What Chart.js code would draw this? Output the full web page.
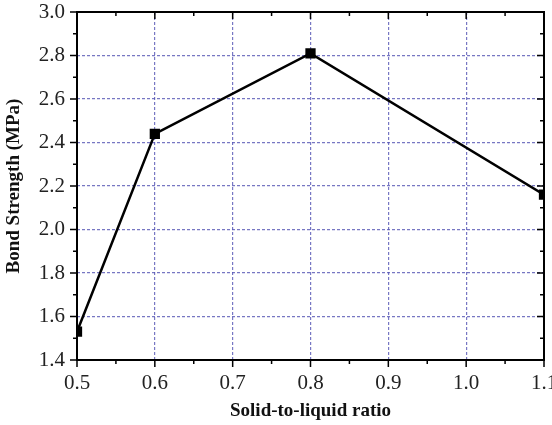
<!DOCTYPE html>
<html>
<head>
<meta charset="utf-8">
<script src="https://cdn.jsdelivr.net/npm/chart.js@4.4.0/dist/chart.umd.min.js"></script>
<style>
  html, body { margin: 0; padding: 0; background: #fff; }
  .chart-box { width: 552px; height: 425px; }
</style>
</head>
<body>
<div class="chart-box"><canvas class="js-chart"></canvas></div>
<script>
// data
const ratio = [0.5, 0.6, 0.8, 1.1];
const bondStrength = [1.53, 2.44, 2.81, 2.16];
const xTicks = [0.5, 0.6, 0.7, 0.8, 0.9, 1.0, 1.1];
const yTicks = [1.4, 1.6, 1.8, 2.0, 2.2, 2.4, 2.6, 2.8, 3.0];

const serif = '"Liberation Serif", "Times New Roman", serif';
const gridBlue = 'rgba(85, 85, 180, 0.8)';

// frame + major/minor tick marks (Origin style)
const framePlugin = {
  id: 'frame',
  afterDraw(chart) {
    const { ctx, chartArea: a, scales: { x, y } } = chart;
    ctx.save();
    ctx.strokeStyle = '#000';
    ctx.lineWidth = 1.5;

    const xs = [];
    for (let i = 0; i < xTicks.length; i++) {
      xs.push([xTicks[i], 7]);
      if (i < xTicks.length - 1) xs.push([(xTicks[i] + xTicks[i + 1]) / 2, 4]);
    }
    xs.forEach(([v, len]) => {
      const px = x.getPixelForValue(v);
      ctx.beginPath();
      ctx.moveTo(px, a.bottom); ctx.lineTo(px, a.bottom + len);
      ctx.moveTo(px, a.top); ctx.lineTo(px, a.top + len);
      ctx.stroke();
    });

    const ys = [];
    for (let i = 0; i < yTicks.length; i++) {
      ys.push([yTicks[i], 7]);
      if (i < yTicks.length - 1) ys.push([(yTicks[i] + yTicks[i + 1]) / 2, 4]);
    }
    ys.forEach(([v, len]) => {
      const py = y.getPixelForValue(v);
      ctx.beginPath();
      ctx.moveTo(a.left, py); ctx.lineTo(a.left - len, py);
      ctx.moveTo(a.right, py); ctx.lineTo(a.right - len, py);
      ctx.stroke();
    });

    ctx.lineWidth = 2;
    ctx.strokeRect(a.left, a.top, a.right - a.left, a.bottom - a.top);
    ctx.restore();
  },
};

const ctx = document.querySelector('.js-chart').getContext('2d');

new Chart(ctx, {
  type: 'line',
  data: {
    datasets: [
      {
        data: ratio.map((r, i) => ({ x: r, y: bondStrength[i] })),
        borderColor: '#000',
        backgroundColor: '#000',
        borderWidth: 2.5,
        pointStyle: 'rect',
        pointRadius: 5.5,
        pointHoverRadius: 5.5,
        tension: 0,
      },
    ],
  },
  options: {
    responsive: true,
    maintainAspectRatio: false,
    animation: false,
    events: [],
    layout: { padding: { top: 12, right: 7, left: 0, bottom: 0 } },
    plugins: {
      legend: { display: false },
      tooltip: { enabled: false },
    },
    scales: {
      x: {
        type: 'linear',
        min: 0.5,
        max: 1.1,
        afterBuildTicks: scale => { scale.ticks = xTicks.map(v => ({ value: v })); },
        afterFit: scale => {
          scale.height = 65;
          scale.paddingLeft = 0;
          scale.paddingRight = 0;
        },
        ticks: {
          color: '#222',
          padding: 11,
          font: { family: serif, size: 21 },
          maxRotation: 0,
          callback: v => v.toFixed(1),
        },
        grid: {
          color: c => (c.index === 0 || c.index === xTicks.length - 1 ? 'rgba(0,0,0,0)' : gridBlue),
          lineWidth: 1.2,
          drawTicks: false,
        },
        border: { display: false, dash: [3, 2] },
        title: {
          display: true,
          text: 'Solid-to-liquid ratio',
          color: '#111',
          font: { family: serif, size: 19, weight: 'bold' },
          padding: { top: 4, bottom: 3 },
        },
      },
      y: {
        min: 1.4,
        max: 3.0,
        afterBuildTicks: scale => { scale.ticks = yTicks.map(v => ({ value: v })); },
        afterFit: scale => {
          scale.width = 77;
          scale.paddingTop = 0;
          scale.paddingBottom = 0;
        },
        ticks: {
          color: '#222',
          padding: 12,
          font: { family: serif, size: 21 },
          callback: v => v.toFixed(1),
        },
        grid: {
          color: c => (c.index === 0 || c.index === yTicks.length - 1 ? 'rgba(0,0,0,0)' : gridBlue),
          lineWidth: 1.2,
          drawTicks: false,
        },
        border: { display: false, dash: [3, 2] },
        title: {
          display: true,
          text: 'Bond Strength (MPa)',
          color: '#111',
          font: { family: serif, size: 19, weight: 'bold' },
          padding: { top: 3, bottom: 4 },
        },
      },
    },
  },
  plugins: [framePlugin],
});
</script>
</body>
</html>
